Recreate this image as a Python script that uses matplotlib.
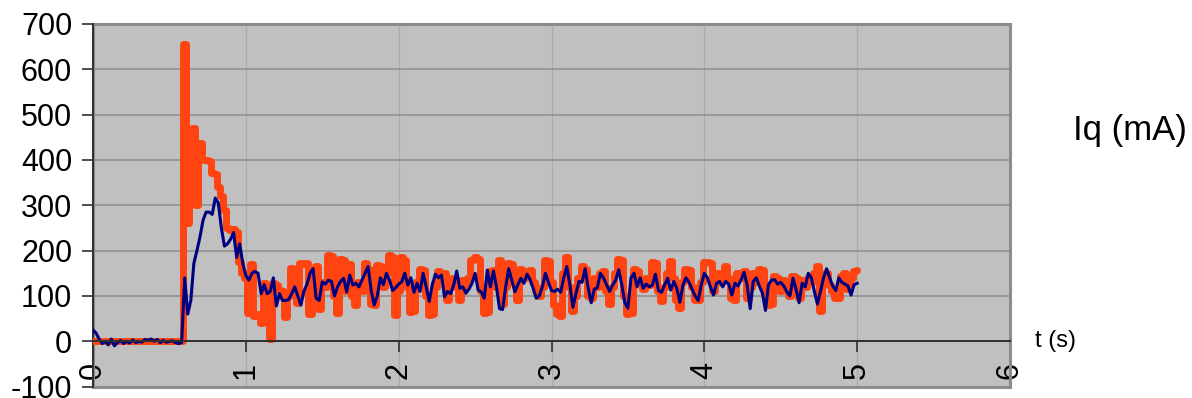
import numpy as np
import matplotlib
matplotlib.use("Agg")
import matplotlib.pyplot as plt
from matplotlib.patches import Rectangle

plt.rcParams['font.family'] = ['Liberation Sans', 'DejaVu Sans']

# Sample grid: 0 .. 5 s every 20 ms
t_start, t_end = 0.0, 5.0

# Measured current (navy trace), mA
iq_measured = [
    25, 18, 5, -5, 0, -8, 5, -10, -3, 2,
    -5, 0, -4, 3, -3, 0, -2, 4, 2, 5,
    0, 4, -3, 2, -2, 0, 1, -3, -5, -3,
    140, 60, 90, 172, 200, 230, 267, 285, 285, 280,
    316, 305, 250, 210, 215, 225, 240, 185, 215, 172,
    145, 135, 150, 154, 150, 105, 125, 105, 110, 140,
    78, 105, 90, 90, 92, 105, 120, 100, 80, 110,
    126, 150,
    160, 95, 90, 131, 126, 135, 132, 100, 120, 132,
    139, 109, 146, 124, 128, 120, 135, 150, 165, 112,
    80, 100, 140, 125, 150, 135, 112, 118, 126, 131,
    150, 124, 140, 108, 128, 110, 150, 120, 88, 125,
    148, 140, 146,
    98, 110, 105, 124, 155, 117, 120, 106, 115, 128,
    150, 113, 109, 95, 157, 120, 155, 120, 72, 70,
    120, 160, 135, 109, 125, 139, 128, 148, 136, 117,
    95, 100, 120, 150, 130, 112, 110, 115, 108, 140,
    165, 125, 75, 105, 132,
    130, 160, 118, 85, 115, 118, 150, 140, 125, 110,
    124, 135, 158, 124, 85, 73, 140, 150, 120, 140,
    117, 126, 120, 124, 148, 112, 108, 124, 139, 113,
    132, 117, 86, 124, 140, 130, 115, 100, 90, 125,
    150, 140, 120, 102, 128, 132,
    120, 132, 126, 102, 128, 122, 135, 152, 124, 72,
    132, 140, 122, 106, 68, 125, 135, 136, 126, 130,
    122, 109, 100, 139, 115, 85, 128, 120, 150, 140,
    110, 82, 110, 140, 160, 140, 122, 112, 140, 130,
    126, 122, 102, 125, 128,
]

# Reference current (orange trace), mA
iq_reference = [
    0, 0, 0, 0, 0, 0, 0, 0, 0, 0,
    0, 0, 0, 0, 0, 0, 0, 0, 0, 0,
    0, 0, 0, 0, 0, 0, 0, 0, 0, 0,
    655, 260, 465, 470, 300, 437, 400, 400, 398, 372,
    370, 340, 320, 290, 250, 245, 248, 240, 175, 150,
    140, 62, 170, 55, 60, 40, 128, 125, 6, 128,
    125, 113, 110, 54, 100, 162, 160, 84, 172, 170,
    172, 60,
    150, 165, 72, 130, 120, 190, 188, 100, 62, 182,
    180, 110, 170, 100, 80, 130, 110, 172, 160, 82,
    80, 168, 165, 120, 150, 190, 186, 57, 110, 185,
    180, 120, 64, 66, 130, 160, 158, 100, 57, 60,
    120, 155, 150,
    150, 92, 120, 140, 130, 92, 135, 120, 140, 180,
    185, 182, 110, 62, 65, 155, 158, 120, 180, 82,
    120, 172, 170, 130, 92, 160, 140, 155, 158, 130,
    110, 100, 120, 180, 178, 130, 80, 60, 56, 150,
    185, 120, 66, 100, 140,
    165, 160, 100, 95, 140, 120, 150, 155, 110, 82,
    120, 150, 182, 180, 100, 60, 62, 160, 155, 130,
    115, 140, 125, 175, 172, 110, 88, 120, 150, 178,
    140, 90, 74, 130, 160, 158, 120, 92, 90, 130,
    175, 176, 172, 110, 150, 130,
    150, 165, 140, 95, 92, 150, 140, 155, 95, 120,
    150, 130, 160, 158, 110, 80, 82, 145, 140, 110,
    135, 120, 100, 145, 140, 95, 135, 120, 140, 130,
    150, 165, 66, 130, 150, 125, 110, 96, 95, 145,
    150, 115, 140, 155, 158,
]

x_ticks = [0, 1, 2, 3, 4, 5, 6]
y_ticks = [-100, 0, 100, 200, 300, 400, 500, 600, 700]

t = np.linspace(t_start, t_end, len(iq_measured))

W, H = 1192, 398
fig = plt.figure(figsize=(W / 100, H / 100), dpi=100)
ax = fig.add_axes([93 / W, 1 - 386.6 / H, (1010 - 93) / W, (386.6 - 24) / H])
ax.set_facecolor('#C0C0C0')
ax.set_xlim(0, 6)
ax.set_ylim(-100, 700)

ax.plot(t, iq_reference, color='#FF4411', lw=5.0, drawstyle='steps-mid',
        solid_joinstyle='round', solid_capstyle='round', zorder=3)
ax.plot(t, iq_measured, color='#000080', lw=2.2, solid_joinstyle='round',
        zorder=4)

# grid
ax.set_axisbelow(True)
ax.yaxis.grid(True, color='#989898', lw=1.4)
ax.xaxis.grid(True, color='#ABABAB', lw=0.9)

# spines: left axis dark, x axis crossing at zero, grey plot-area frame
for s in ('top', 'right'):
    ax.spines[s].set_visible(False)
ax.spines['left'].set_color('#303030')
ax.spines['left'].set_linewidth(1.4)
ax.spines['bottom'].set_position(('data', 0))
ax.spines['bottom'].set_color('#303030')
ax.spines['bottom'].set_linewidth(1.4)
ax.spines['bottom'].set_zorder(5)
ax.add_patch(Rectangle((0, 0), 1, 1, transform=ax.transAxes, fill=False,
                       edgecolor='#8C8C8C', lw=2.2, clip_on=False, zorder=2.4))

ax.set_xticks(x_ticks)
ax.set_xticklabels([str(v) for v in x_ticks])
ax.set_yticks(y_ticks)
ax.set_yticklabels([str(v) for v in y_ticks])
ax.tick_params(axis='x', direction='out', length=8, width=1.2, color='#303030',
               pad=7, labelsize=22, labelrotation=90)
ax.tick_params(axis='y', direction='out', length=8, width=1.2, color='#303030',
               pad=7, labelsize=22)

fig.text(1073 / W, 1 - 131 / H, 'Iq (mA)', fontsize=25, ha='left', va='center')
fig.text(1035 / W, 1 - 341 / H, 't (s)', fontsize=17, ha='left', va='center')

fig.savefig('out.png', dpi=100, facecolor='white')
